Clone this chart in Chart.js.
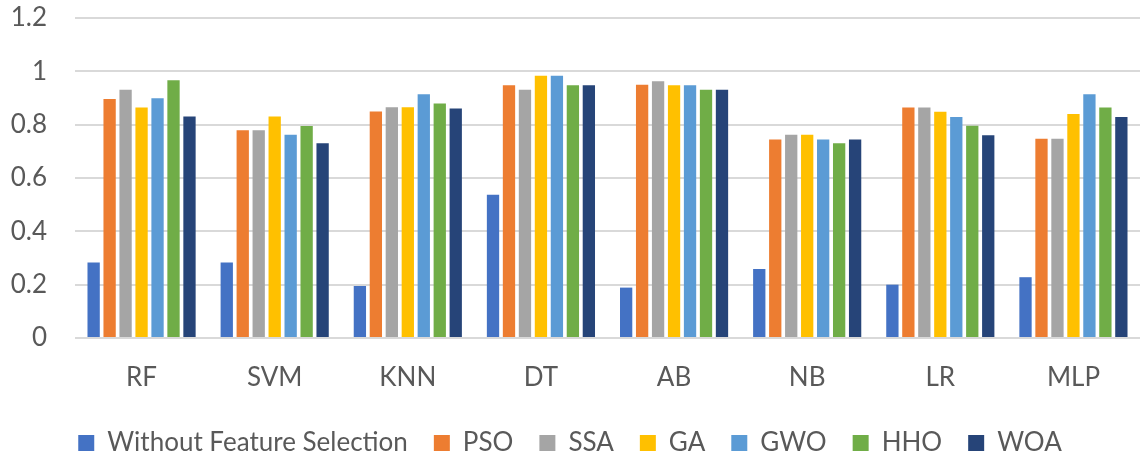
<!DOCTYPE html>
<html>
<head>
<meta charset="utf-8">
<script src="https://cdn.jsdelivr.net/npm/chart.js@4/dist/chart.umd.min.js"></script>
<style>
  html, body { margin: 0; padding: 0; background: #fff; }
  #wrap { width: 1140px; height: 459px; position: relative; }
</style>
</head>
<body>
<div id="wrap"><canvas id="barChart"></canvas></div>
<script>
const classifiers = ['RF', 'SVM', 'KNN', 'DT', 'AB', 'NB', 'LR', 'MLP'];
const noSelection = [0.283, 0.283, 0.195, 0.537, 0.189, 0.259, 0.200, 0.228];
const pso = [0.896, 0.779, 0.849, 0.948, 0.950, 0.744, 0.864, 0.747];
const ssa = [0.931, 0.779, 0.865, 0.931, 0.963, 0.762, 0.864, 0.747];
const ga  = [0.864, 0.831, 0.865, 0.983, 0.948, 0.762, 0.848, 0.840];
const gwo = [0.899, 0.762, 0.914, 0.983, 0.948, 0.744, 0.829, 0.914];
const hho = [0.967, 0.795, 0.879, 0.948, 0.931, 0.730, 0.796, 0.864];
const woa = [0.831, 0.730, 0.861, 0.948, 0.931, 0.744, 0.760, 0.829];

const series = [
  ['Without Feature Selection', noSelection, '#4472C4'],
  ['PSO', pso, '#ED7D31'],
  ['SSA', ssa, '#A5A5A5'],
  ['GA', ga, '#FFC000'],
  ['GWO', gwo, '#5B9BD5'],
  ['HHO', hho, '#70AD47'],
  ['WOA', woa, '#264478'],
];

const textColor = '#595959';
const font = { family: 'Lato, "Open Sans", sans-serif', size: 26 };

const ctx = document.getElementById('barChart').getContext('2d');
new Chart(ctx, {
  type: 'bar',
  data: {
    labels: classifiers,
    datasets: series.map(([label, data, color]) => ({
      label,
      data,
      backgroundColor: color,
      borderWidth: 0,
      categoryPercentage: 0.84,
      barPercentage: 0.77,
    })),
  },
  options: {
    responsive: true,
    maintainAspectRatio: false,
    animation: false,
    layout: { padding: { top: 18, right: 0, bottom: 0, left: 0 } },
    scales: {
      x: {
        grid: { display: false },
        border: { display: false },
        ticks: { color: textColor, font, padding: 16 },
        afterFit: (scale) => {
          scale.height = 66;
          scale.paddingLeft = 0;
          scale.paddingRight = 0;
        },
      },
      y: {
        min: 0,
        max: 1.2,
        ticks: {
          stepSize: 0.2,
          color: textColor,
          font,
          padding: 28,
          callback: (v) => Math.round(v * 10) / 10,
        },
        grid: { color: '#D9D9D9', lineWidth: 2, drawTicks: false },
        border: { display: false },
        afterFit: (scale) => {
          // keep the tick padding from pushing the plot area down
          scale.width = 75;
          scale.paddingTop = 0;
          scale.paddingBottom = 0;
        },
      },
    },
    plugins: {
      legend: {
        position: 'bottom',
        maxHeight: 55,
        labels: {
          color: textColor,
          font,
          boxWidth: 16,
          boxHeight: 16,
          padding: 26,
        },
      },
      tooltip: { enabled: false },
    },
  },
});
</script>
</body>
</html>
